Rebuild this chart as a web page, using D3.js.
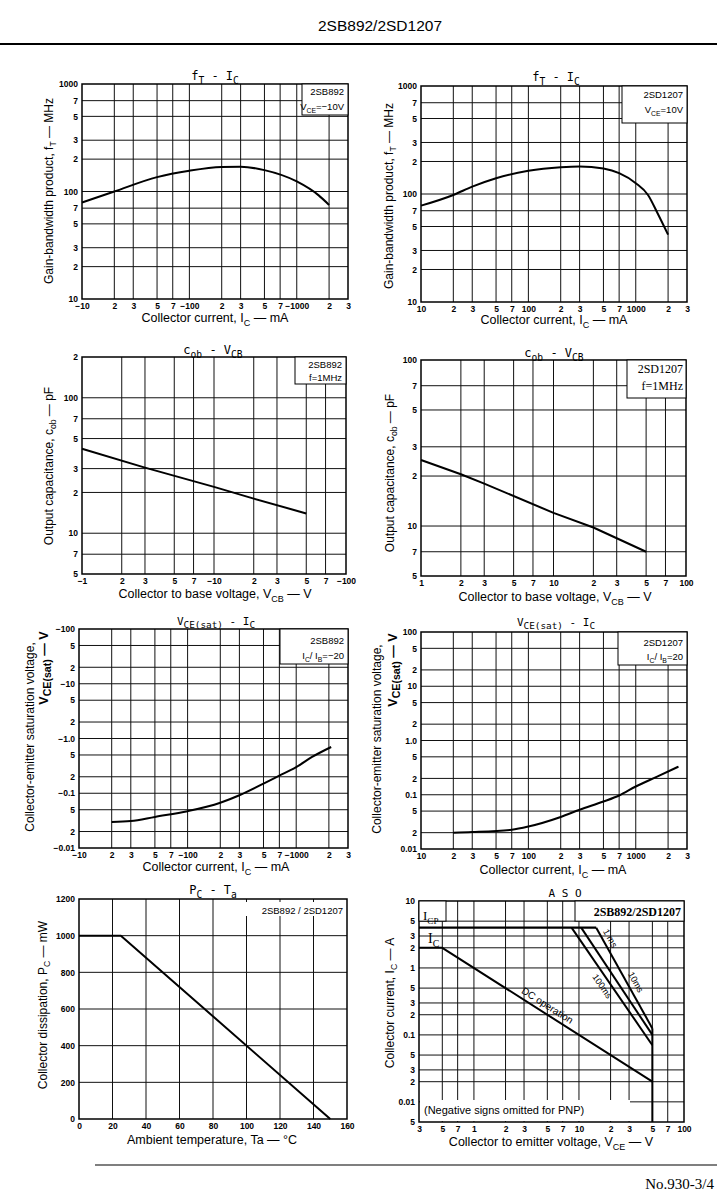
<!DOCTYPE html>
<html><head><meta charset="utf-8">
<script src="https://cdn.jsdelivr.net/npm/d3@7"></script>
<style>body{margin:0;background:#fff}svg{display:block}</style>
</head><body>
<script>
// ================= DATA =================
const icTicks = [10,20,30,50,70,100,200,300,500,700,1000,2000,3000];
const icLabelsPNP = ["−10","2","3","5","7","−100","2","3","5","7","−1000","2","3"];
const icLabelsNPN = ["10","2","3","5","7","100","2","3","5","7","1000","2","3"];
const ftTicks = [10,20,30,50,70,100,200,300,500,700,1000];
const ftLabels = ["10","2","3","5","7","100","2","3","5","7","1000"];
const ftB892 = [[10,79],[20,100],[50,136],[100,156],[200,169],[300,170],[500,158],[1000,124],[1600,92],[2000,75]];
const ftD1207 = [[10,78],[20,98],[30,117],[50,140],[100,164],[200,177],[300,180],[500,172],[700,156],[1000,126],[1300,98],[1600,66],[2000,42]];

const vcbTicks = [1,2,3,5,7,10,20,30,50,70,100];
const vcbLabelsPNP = ["−1","2","3","5","7","−10","2","3","5","7","−100"];
const vcbLabelsNPN = ["1","2","3","5","7","10","2","3","5","7","100"];
const cobTicksB = [5,7,10,20,30,50,70,100,200];
const cobLabelsB = ["5","7","10","2","3","5","7","100","2"];
const cobTicksD = [5,7,10,20,30,50,70,100];
const cobLabelsD = ["5","7","10","2","3","5","7","100"];
const cobB892 = [[1,42],[3,30.5],[10,22],[20,18],[50,14]];
const cobD1207 = [[1,25],[2,20.5],[3,18],[10,12],[20,9.8],[50,7]];

const vsatTicks = [0.01,0.02,0.05,0.1,0.2,0.5,1,2,5,10,20,50,100];
const vsatLabelsPNP = ["−0.01","2","5","−0.1","2","5","−1.0","2","5","−10","2","5","−100"];
const vsatLabelsNPN = ["0.01","2","5","0.1","2","5","1.0","2","5","10","2","5","100"];
const vsatB892 = [[20,0.030],[30,0.031],[50,0.037],[100,0.047],[200,0.067],[300,0.092],[500,0.15],[700,0.21],[1000,0.30],[1400,0.46],[2100,0.70]];
const vsatD1207 = [[20,0.020],[30,0.0205],[70,0.0227],[100,0.026],[200,0.039],[300,0.053],[500,0.075],[700,0.097],[1000,0.142],[1600,0.218],[2500,0.33]];

const taTicks = [0,20,40,60,80,100,120,140,160];
const pcTicks = [0,200,400,600,800,1000,1200];
const pcTa = [[0,1000],[25,1000],[150,0]];

const vceTicks = [0.3,0.5,0.7,1,2,3,5,7,10,20,30,50,70,100];
const vceLabels = ["3","5","7","1","2","3","5","7","10","2","3","5","7","100"];
const asoTicks = [0.005,0.01,0.02,0.03,0.05,0.1,0.2,0.3,0.5,1,2,3,5,10];
const asoLabels = ["5","0.01","2","3","5","0.1","2","3","5","1","2","3","5","10"];
const asoDC = [[0.3,2],[0.5,2],[50,0.02]];
const asoICP = [[0.3,4],[14.6,4]];
const aso1ms = [[14.6,4],[50,0.125]];
const aso10ms = [[10.5,4],[50,0.1]];
const aso100ms = [[8.5,4],[50,0.07]];
const asoVceo = [[50,0.125],[50,0.005]];

// ================= DRAW =================
const SANS = "'Liberation Sans', Arial, sans-serif";
const SERIF = "'Liberation Serif', 'Times New Roman', serif";
const MONO = "'DejaVu Sans Mono', monospace";
const svg = d3.select("body").append("svg").attr("width",717).attr("height",1200);
svg.append("rect").attr("width",717).attr("height",1200).attr("fill","#fff");

function rich(t, parts, fs, subScale=0.72) {
  let shifted = false;
  parts.forEach(([s, sub]) => {
    const ts = t.append("tspan").text(s);
    if (sub) { ts.attr("font-size", fs*subScale); if (!shifted) { ts.attr("dy", fs*0.3); shifted = true; } }
    else { ts.attr("font-size", fs); if (shifted) { ts.attr("dy", -fs*0.3); shifted = false; } }
  });
  return t;
}
function txt(x, y, parts, fs, opts={}) {
  const t = svg.append("text").attr("x",x).attr("y",y)
    .attr("font-family", opts.family || SANS)
    .attr("text-anchor", opts.anchor || "middle")
    .attr("font-weight", opts.weight || "normal")
    .attr("fill","#000");
  if (opts.rotate) t.attr("transform", `rotate(${opts.rotate},${x},${y})`);
  return rich(t, parts, fs, opts.subScale);
}

function panel(o) {
  const x = (o.xLog ? d3.scaleLog() : d3.scaleLinear()).domain(o.xd).range([o.x0, o.x1]);
  const y = (o.yLog ? d3.scaleLog() : d3.scaleLinear()).domain(o.yd).range([o.y1, o.y0]);
  const g = svg.append("g");
  const xg = o.xTicks.filter(v => v > o.xd[0] && v < o.xd[1]);
  const yg = o.yTicks.filter(v => v > o.yd[0] && v < o.yd[1]);
  g.append("g").selectAll("line").data(xg).join("line")
    .attr("x1", d => x(d)).attr("x2", d => x(d)).attr("y1", o.y0).attr("y2", o.y1)
    .attr("stroke", "#111").attr("stroke-width", 1);
  g.append("g").selectAll("line").data(yg).join("line")
    .attr("y1", d => y(d)).attr("y2", d => y(d)).attr("x1", o.x0).attr("x2", o.x1)
    .attr("stroke", "#111").attr("stroke-width", 1);
  g.append("rect").attr("x", o.x0).attr("y", o.y0).attr("width", o.x1 - o.x0).attr("height", o.y1 - o.y0)
    .attr("fill", "none").attr("stroke", "#000").attr("stroke-width", 1.5);
  const styleTicks = s => {
    s.select(".domain").remove();
    s.selectAll("text").attr("font-size", 8.5).attr("font-family", SANS).attr("font-weight", "bold").attr("fill", "#000");
  };
  g.append("g").attr("transform", `translate(0,${o.y1})`)
    .call(d3.axisBottom(x).tickValues(o.xTicks).tickFormat((d, i) => o.xLabels[i]).tickSize(0).tickPadding(4))
    .call(styleTicks);
  g.append("g").attr("transform", `translate(${o.x0},0)`)
    .call(d3.axisLeft(y).tickValues(o.yTicks).tickFormat((d, i) => o.yLabels[i]).tickSize(0).tickPadding(4))
    .call(styleTicks);
  return { x, y, g };
}
function box(p, x0, y0, x1, y1) {
  p.g.append("rect").attr("x", x0).attr("y", y0).attr("width", x1 - x0).attr("height", y1 - y0)
    .attr("fill", "#fff").attr("stroke", "#000").attr("stroke-width", 1);
}
function curve(p, data, smooth, w=2) {
  const line = d3.line().x(d => p.x(d[0])).y(d => p.y(d[1]));
  if (smooth) line.curve(d3.curveMonotoneX);
  p.g.append("path").datum(data).attr("d", line).attr("fill", "none")
    .attr("stroke", "#000").attr("stroke-width", w).attr("stroke-linejoin", "round");
}

// Header & footer
svg.append("text").attr("x", 380).attr("y", 31).attr("text-anchor", "middle")
  .attr("font-family", SANS).attr("font-size", 14).attr("textLength", 124).attr("lengthAdjust", "spacingAndGlyphs")
  .text("2SB892/2SD1207");
svg.append("line").attr("x1", 0).attr("x2", 717).attr("y1", 44).attr("y2", 44).attr("stroke", "#000").attr("stroke-width", 2);
svg.append("line").attr("x1", 95).attr("x2", 717).attr("y1", 1165).attr("y2", 1165).attr("stroke", "#000").attr("stroke-width", 1.2);
svg.append("text").attr("x", 714).attr("y", 1189).attr("text-anchor", "end").attr("font-family", SERIF).attr("font-size", 15).text("No.930-3/4");

// ---------- Panel 1: fT - IC (2SB892) ----------
const p1 = panel({x0:82,x1:348,y0:84,y1:299,xd:[10,3000],yd:[10,1000],xLog:true,yLog:true,
  xTicks:icTicks,xLabels:icLabelsPNP,yTicks:ftTicks,yLabels:ftLabels});
box(p1, 302, 84, 348, 115);
curve(p1, ftB892, true);
txt(344, 95, [["2SB892"]], 9.5, {anchor:"end"});
txt(344, 110, [["V"],["CE",1],["=−10V"]], 9.5, {anchor:"end"});
txt(215, 80, [["f"],["T",1],[" - I"],["C",1]], 12, {family:MONO, subScale:0.8});
txt(52.5, 191, [["Gain-bandwidth product, f"],["T",1],[" — MHz"]], 12, {rotate:-90});
txt(215, 322, [["Collector current, I"],["C",1],[" — mA"]], 12.5);

// ---------- Panel 2: fT - IC (2SD1207) ----------
const p2 = panel({x0:421,x1:687,y0:86,y1:302,xd:[10,3000],yd:[10,1000],xLog:true,yLog:true,
  xTicks:icTicks,xLabels:icLabelsNPN,yTicks:ftTicks,yLabels:ftLabels});
box(p2, 622, 86, 687, 123);
curve(p2, ftD1207, true);
txt(683, 98, [["2SD1207"]], 9.5, {anchor:"end"});
txt(683, 113, [["V"],["CE",1],["=10V"]], 9.5, {anchor:"end"});
txt(556, 81, [["f"],["T",1],[" - I"],["C",1]], 12, {family:MONO, subScale:0.8});
txt(392.5, 196, [["Gain-bandwidth product, f"],["T",1],[" — MHz"]], 12, {rotate:-90});
txt(554, 324, [["Collector current, I"],["C",1],[" — mA"]], 12.5);

// ---------- Panel 3: Cob - VCB (2SB892) ----------
const p3 = panel({x0:82,x1:346,y0:357,y1:574,xd:[1,100],yd:[5,200],xLog:true,yLog:true,
  xTicks:vcbTicks,xLabels:vcbLabelsPNP,yTicks:cobTicksB,yLabels:cobLabelsB});
box(p3, 295, 357, 346, 384);
curve(p3, cobB892, false);
txt(342, 368, [["2SB892"]], 9.5, {anchor:"end"});
txt(342, 381, [["f=1MHz"]], 9.5, {anchor:"end"});
txt(213, 354, [["c"],["ob",1],[" - V"],["CB",1]], 12, {family:MONO, subScale:0.8});
txt(52.5, 466, [["Output capacitance, c"],["ob",1],[" — pF"]], 12, {rotate:-90});
txt(215, 598, [["Collector to base voltage, V"],["CB",1],[" — V"]], 12.5);

// ---------- Panel 4: Cob - VCB (2SD1207) ----------
const p4 = panel({x0:421,x1:686,y0:360,y1:576,xd:[1,100],yd:[5,100],xLog:true,yLog:true,
  xTicks:vcbTicks,xLabels:vcbLabelsNPN,yTicks:cobTicksD,yLabels:cobLabelsD});
box(p4, 627, 360, 686, 398);
curve(p4, cobD1207, false);
txt(683, 373, [["2SD1207"]], 12, {anchor:"end", family:SERIF});
txt(683, 390, [["f=1MHz"]], 12, {anchor:"end", family:SERIF});
txt(554, 357, [["c"],["ob",1],[" - V"],["CB",1]], 12, {family:MONO, subScale:0.8});
txt(393.5, 473, [["Output capacitance, c"],["ob",1],[" — pF"]], 12, {rotate:-90});
txt(555, 601, [["Collector to base voltage, V"],["CB",1],[" — V"]], 12.5);

// ---------- Panel 5: VCE(sat) - IC (2SB892) ----------
const p5 = panel({x0:79,x1:348,y0:629,y1:848,xd:[10,3000],yd:[0.01,100],xLog:true,yLog:true,
  xTicks:icTicks,xLabels:icLabelsPNP,yTicks:vsatTicks,yLabels:vsatLabelsPNP});
box(p5, 280, 629, 348, 664);
curve(p5, vsatB892, true);
txt(344, 644, [["2SB892"]], 9.5, {anchor:"end"});
txt(344, 659, [["I"],["C",1],["/ I"],["B",1],["=−20"]], 9.5, {anchor:"end"});
txt(216, 625, [["V"],["CE(sat)",1],[" - I"],["C",1]], 11, {family:MONO, subScale:0.85});
txt(33.5, 737, [["Collector-emitter saturation voltage,"]], 12, {rotate:-90});
txt(47.5, 668, [["V"],["CE(sat)",1],[" — V"]], 12.5, {rotate:-90, weight:"bold", subScale:0.85});
txt(216, 871, [["Collector current, I"],["C",1],[" — mA"]], 12.5);

// ---------- Panel 6: VCE(sat) - IC (2SD1207) ----------
const p6 = panel({x0:421,x1:687,y0:632,y1:849,xd:[10,3000],yd:[0.01,100],xLog:true,yLog:true,
  xTicks:icTicks,xLabels:icLabelsNPN,yTicks:vsatTicks,yLabels:vsatLabelsNPN});
box(p6, 618, 632, 687, 665);
curve(p6, vsatD1207, true);
txt(683, 646, [["2SD1207"]], 9.5, {anchor:"end"});
txt(683, 660, [["I"],["C",1],["/ I"],["B",1],["=20"]], 9.5, {anchor:"end"});
txt(556, 626, [["V"],["CE(sat)",1],[" - I"],["C",1]], 11, {family:MONO, subScale:0.85});
txt(380.5, 739, [["Collector-emitter saturation voltage,"]], 12, {rotate:-90});
txt(396.5, 670, [["V"],["CE(sat)",1],[" — V"]], 12.5, {rotate:-90, weight:"bold", subScale:0.85});
txt(553, 874, [["Collector current, I"],["C",1],[" — mA"]], 12.5);

// ---------- Panel 7: PC - Ta ----------
const p7 = panel({x0:79,x1:347,y0:899,y1:1119,xd:[0,160],yd:[0,1200],xLog:false,yLog:false,
  xTicks:taTicks,xLabels:taTicks.map(String),yTicks:pcTicks,yLabels:pcTicks.map(String)});
p7.g.append("rect").attr("x",240).attr("y",902).attr("width",105).attr("height",14).attr("fill","#fff");
curve(p7, pcTa, false);
txt(343, 914, [["2SB892 / 2SD1207"]], 9.5, {anchor:"end"});
txt(213, 894, [["P"],["C",1],[" - T"],["a",1]], 12, {family:MONO, subScale:0.8});
txt(46.5, 1005, [["Collector dissipation, P"],["C",1],[" — mW"]], 12, {rotate:-90});
txt(212, 1144, [["Ambient temperature, Ta — °C"]], 12.5);

// ---------- Panel 8: ASO ----------
const p8 = panel({x0:419,x1:684,y0:901,y1:1122,xd:[0.3,100],yd:[0.005,10],xLog:true,yLog:true,
  xTicks:vceTicks,xLabels:vceLabels,yTicks:asoTicks,yLabels:asoLabels});
box(p8, 575, 901, 684, p8.y(5));
box(p8, 419, 901, 446, p8.y(5));
p8.g.append("rect").attr("x",420).attr("y",1100).attr("width",210).attr("height",21).attr("fill","#fff");
curve(p8, asoICP, false, 2.4);
curve(p8, asoDC, false);
curve(p8, aso1ms, false);
curve(p8, aso10ms, false);
curve(p8, aso100ms, false);
curve(p8, asoVceo, false);
txt(681, 916, [["2SB892/2SD1207"]], 12, {anchor:"end", family:SERIF, weight:"bold"});
txt(423, 920, [["I"],["CP",1]], 13, {anchor:"start", family:SERIF, subScale:0.7});
txt(428, 943, [["I"],["C",1]], 14, {anchor:"start", family:SERIF, subScale:0.7});
txt(424, 1114, [["(Negative signs omitted for PNP)"]], 11, {anchor:"start"});
txt(565, 897, [["A S O"]], 11, {family:MONO});
txt(393.5, 1003, [["Collector current, I"],["C",1],[" — A"]], 12, {rotate:-90});
txt(551, 1146, [["Collector to emitter voltage, V"],["CE",1],[" — V"]], 12.5);

// rotated labels along lines (positions derived from scales)
function lineLabel(p, seg, t, off, label, fs) {
  const [a, b] = seg;
  const ax = p.x(a[0]), ay = p.y(a[1]), bx = p.x(b[0]), by = p.y(b[1]);
  const ang = Math.atan2(by - ay, bx - ax);
  const px = ax + (bx - ax) * t + Math.sin(ang) * off;
  const py = ay + (by - ay) * t - Math.cos(ang) * off;
  p.g.append("text").attr("transform", `translate(${px},${py}) rotate(${ang * 180 / Math.PI})`)
    .attr("text-anchor", "middle").attr("dominant-baseline", "central")
    .attr("font-family", SANS).attr("font-size", fs).text(label);
}
lineLabel(p8, aso1ms, 0.14, 7, "1 ms", 9);
lineLabel(p8, aso1ms, 0.58, 8, "10ms", 9);
lineLabel(p8, aso100ms, 0.46, -8, "100ms", 9);
lineLabel(p8, [asoDC[1], asoDC[2]], 0.48, 8, "DC operation", 10);
</script>
</body></html>
